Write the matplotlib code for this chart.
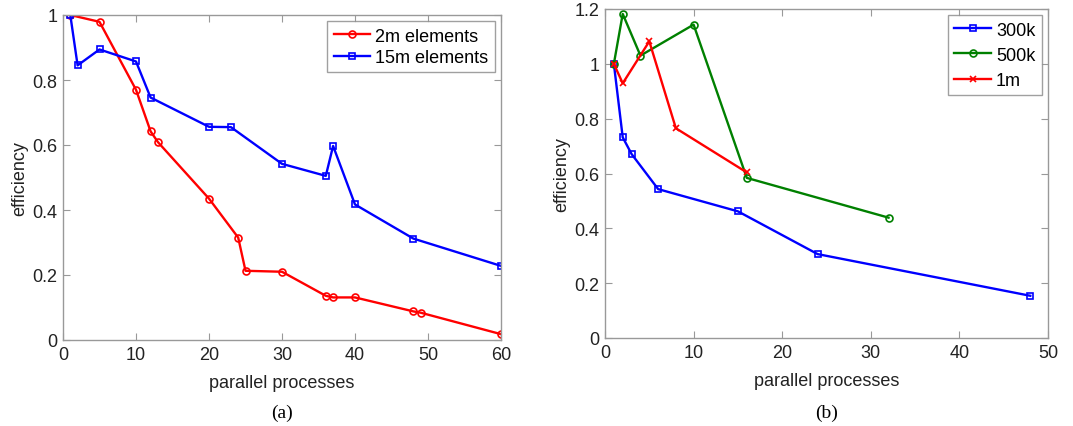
import matplotlib
matplotlib.use("Agg")
import matplotlib.pyplot as plt
from matplotlib.ticker import FuncFormatter

# ------------------------------
# Data
# ------------------------------
# panel (a)
x_2m = [1, 5, 10, 12, 13, 20, 24, 25, 30, 36, 37, 40, 48, 49, 60]
y_2m = [1.0, 0.979, 0.770, 0.642, 0.609, 0.435, 0.315, 0.213, 0.210, 0.136, 0.131, 0.131, 0.088, 0.084, 0.018]
x_15m = [1, 2, 5, 10, 12, 20, 23, 30, 36, 37, 40, 48, 60]
y_15m = [1.0, 0.845, 0.894, 0.857, 0.746, 0.656, 0.655, 0.542, 0.505, 0.597, 0.417, 0.312, 0.228]

# panel (b)
x_300k = [1, 2, 3, 6, 15, 24, 48]
y_300k = [1.0, 0.732, 0.671, 0.543, 0.462, 0.306, 0.154]
x_500k = [1, 2, 4, 10, 16, 32]
y_500k = [1.0, 1.182, 1.030, 1.143, 0.584, 0.439]
x_1m = [1, 2, 5, 8, 16]
y_1m = [1.0, 0.929, 1.082, 0.765, 0.604]

BLUE = (0, 0, 1)
RED = (1, 0, 0)
GREEN = (0, 0.5, 0)
FS = 13

plt.rcParams["font.family"] = ["Liberation Sans", "DejaVu Sans"]

W, H = 1073, 427
fig = plt.figure(figsize=(W / 100, H / 100), dpi=100)


def px_axes(x0, x1, y0, y1):
    # pixel box -> figure fraction
    return fig.add_axes([x0 / W, 1 - y1 / H, (x1 - x0) / W, (y1 - y0) / H])


def fmt(v, pos):
    return "%g" % round(v, 2)


def style(ax):
    for s in ax.spines.values():
        s.set_color("#999999")
        s.set_linewidth(1.0)
    ax.tick_params(direction="in", top=True, right=True, length=5,
                   color="#999999", labelsize=FS, labelcolor="#222222", pad=4)
    ax.yaxis.set_major_formatter(FuncFormatter(fmt))
    ax.set_xlabel("parallel processes", fontsize=FS, color="#222222", labelpad=8)
    ax.set_ylabel("efficiency", fontsize=FS, color="#222222", labelpad=3)


def legend(ax, spacing):
    leg = ax.legend(loc="upper right", fontsize=FS, fancybox=False, borderaxespad=0.35,
                    handlelength=2.0, handletextpad=0.3, borderpad=0.35, labelspacing=spacing)
    leg.get_frame().set_edgecolor("#888888")
    leg.get_frame().set_linewidth(1.0)


# ------------------------------
# Panel (a)
# ------------------------------
ax1 = px_axes(63, 501, 16, 341)
ax1.plot(x_2m, y_2m, color=RED, lw=1.7, marker="o", ms=5, mfc="none", mew=1.2, label="2m elements")
ax1.plot(x_15m, y_15m, color=BLUE, lw=1.7, marker="s", ms=4.5, mfc="none", mew=1.2, label="15m elements")
ax1.set_xlim(0, 60)
ax1.set_ylim(0, 1)
ax1.set_xticks(range(0, 61, 10))
ax1.set_yticks([0, 0.2, 0.4, 0.6, 0.8, 1.0])
style(ax1)
legend(ax1, 0.25)
fig.text((63 + 501) / 2 / W, 1 - 413 / H, "(a)", ha="center", va="center",
         fontsize=14, family=["Liberation Serif", "DejaVu Serif"])

# ------------------------------
# Panel (b)
# ------------------------------
ax2 = px_axes(605, 1048, 10, 339)
ax2.plot(x_300k, y_300k, color=BLUE, lw=1.7, marker="s", ms=4.5, mfc="none", mew=1.2, label="300k")
ax2.plot(x_500k, y_500k, color=GREEN, lw=1.7, marker="o", ms=5, mfc="none", mew=1.2, label="500k")
ax2.plot(x_1m, y_1m, color=RED, lw=1.7, marker="x", ms=4, mew=1.2, label="1m")
ax2.set_xlim(0, 50)
ax2.set_ylim(0, 1.2)
ax2.set_xticks(range(0, 51, 10))
ax2.set_yticks([0, 0.2, 0.4, 0.6, 0.8, 1.0, 1.2])
style(ax2)
legend(ax2, 0.45)
fig.text((605 + 1048) / 2 / W, 1 - 413 / H, "(b)", ha="center", va="center",
         fontsize=14, family=["Liberation Serif", "DejaVu Serif"])

fig.savefig("out.png", dpi=100)
